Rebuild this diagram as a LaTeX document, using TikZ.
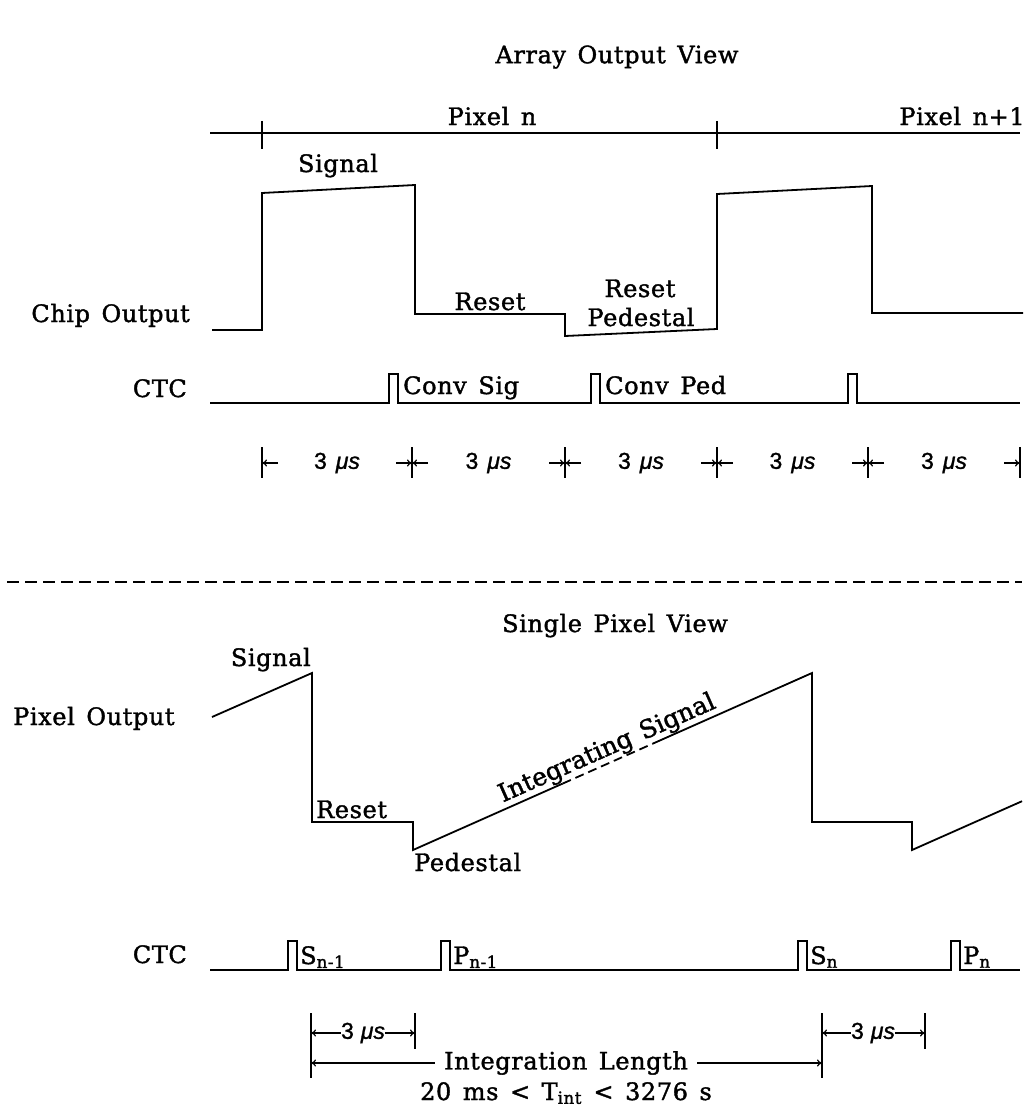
\documentclass[tikz,border=0pt]{standalone}
\usepackage{fontspec}
\setmainfont{DejaVu Serif}[LetterSpace=2.5, FakeBold=1.5, WordSpace=1.4]
\newfontfamily\rotf{DejaVu Serif}[FakeBold=1.5, WordSpace=1.3]
\newfontfamily\sansf{Liberation Sans}[FakeBold=1.2]
\usetikzlibrary{arrows.meta}
\begin{document}
\begin{tikzpicture}[x=1pt,y=-1pt,
  wave/.style={line width=1.8pt, line join=miter},
  thinwave/.style={line width=1.5pt},
  lbl/.style={font=\fontsize{24}{31}\selectfont, inner sep=0pt},
  dtick/.style={line width=1.3pt},
  darrow/.style={line width=1.2pt, -{To[length=5pt,width=7pt]}},
  us/.style={font=\sansf\fontsize{23}{26}\selectfont, inner sep=0pt}]
\useasboundingbox (0,0) rectangle (1034,1113);

% ---------------- top: array output view
\node[lbl] (title1) at (617,57) {Array Output View};
\node[lbl,anchor=base] (pixn) at (492,125) {Pixel n};
\node[lbl,anchor=base] (pixn1) at (962,125) {Pixel n+1};
\coordinate (pl0) at (210,133);
\coordinate (pl1) at (1020,133);
\draw[thinwave] (pl0) -- (pl1);
\draw[dtick] (262,121) -- (262,149);
\draw[dtick] (717,121) -- (717,149);

\draw[wave] (212,330) -- (262,330) -- (262,193) -- (415,185) -- (415,314)
  -- (565,314) -- (565,336) -- (717,329) -- (717,194) -- (872,186)
  -- (872,313) -- (1023,313);

\node[lbl,anchor=base] (sig1) at (338,172) {Signal};
\node[lbl,anchor=base east] (chip) at (190,322) {Chip Output};
\node[lbl,anchor=base] (rst1) at (490,310) {Reset};
\node[lbl,anchor=base] (rst2) at (640,297) {Reset};
\node[lbl,anchor=base] (ped2) at (641,326) {Pedestal};

\node[lbl,anchor=base east] (ctc1) at (187,397) {CTC};
\draw[thinwave] (210,403) -- (389,403) -- (389,374) -- (398,374) -- (398,403)
  -- (591,403) -- (591,374) -- (600,374) -- (600,403)
  -- (848,403) -- (848,374) -- (857,374) -- (857,403) -- (1020,403);
\node[lbl,anchor=base west] (convsig) at (403,394) {Conv Sig};
\node[lbl,anchor=base west] (convped) at (605,394) {Conv Ped};

\foreach \a/\b in {262/412, 412/565, 565/717, 717/868, 868/1020} {
  \draw[darrow] (\a+16,463) -- (\a,463);
  \draw[darrow] (\b-16,463) -- (\b,463);
  \node[us] at ({(\a+\b)/2},463) {3\hspace{9pt}{\itshape μs}};
}
\foreach \t in {262,412,565,717,868,1020} {
  \draw[dtick] (\t,447) -- (\t,478);
}

% ---------------- separator
\draw[line width=1.4pt, dash pattern=on 12pt off 6pt] (7,582) -- (1022,582);

% ---------------- bottom: single pixel view
\node[lbl,anchor=base] (title2) at (615,632) {Single Pixel View};
\node[lbl,anchor=base west] (pixout) at (13,725) {Pixel Output};

\draw[wave] (212,717) -- (312,673) -- (312,822) -- (413,822) -- (413,850)
  -- (562.6,783.6);
\draw[wave, dash pattern=on 9pt off 5pt] (562.6,783.6) -- (652.4,743.8);
\draw[wave] (652.4,743.8) -- (812,673) -- (812,822) -- (912,822)
  -- (912,850) -- (1022,801.2);
\node[inner sep=0pt,font=\rotf\fontsize{25}{30}\selectfont,anchor=base,rotate=23.9] (intsig) at (610,755) {Integrating Signal};

\node[lbl,anchor=base east] (sig2) at (311,666) {Signal};
\node[lbl,anchor=base west] (rst3) at (316,818) {Reset};
\node[lbl,anchor=base west] (ped3) at (414,871) {Pedestal};

\node[lbl,anchor=base east] (ctc2) at (187,963) {CTC};
\draw[thinwave] (210,970) -- (288,970) -- (288,941) -- (297,941) -- (297,970)
  -- (441,970) -- (441,941) -- (450,941) -- (450,970)
  -- (798,970) -- (798,941) -- (807,941) -- (807,970)
  -- (951,970) -- (951,941) -- (960,941) -- (960,970) -- (1020,970);
\node[lbl,anchor=base west] (s1) at (300,964) {S\textsubscript{n-1}};
\node[lbl,anchor=base west] (p1) at (453,964) {P\textsubscript{n-1}};
\node[lbl,anchor=base west] (s2) at (810,964) {S\textsubscript{n}};
\node[lbl,anchor=base west] (p2) at (963,964) {P\textsubscript{n}};

% dimensions
\draw[dtick] (311,1013) -- (311,1078);
\draw[dtick] (415,1013) -- (415,1049);
\draw[dtick] (822,1013) -- (822,1078);
\draw[dtick] (925,1013) -- (925,1049);
\node[us] (us1) at (363,1033) {3\hspace{7pt}{\itshape μs}};
\draw[darrow] (us1.west) -- (311,1033);
\draw[darrow] (us1.east) -- (415,1033);
\node[us] (us2) at (873,1033) {3\hspace{7pt}{\itshape μs}};
\draw[darrow] (us2.west) -- (822,1033);
\draw[darrow] (us2.east) -- (925,1033);

\node[lbl,inner xsep=9pt] (intlen) at (566,1063) {Integration Length};
\draw[darrow] (intlen.west) -- (311,1063);
\draw[darrow] (intlen.east) -- (822,1063);
\node[lbl,anchor=base] (tint) at (566,1100) {20 ms < T\textsubscript{int} < 3276 s};
\end{tikzpicture}
\end{document}
